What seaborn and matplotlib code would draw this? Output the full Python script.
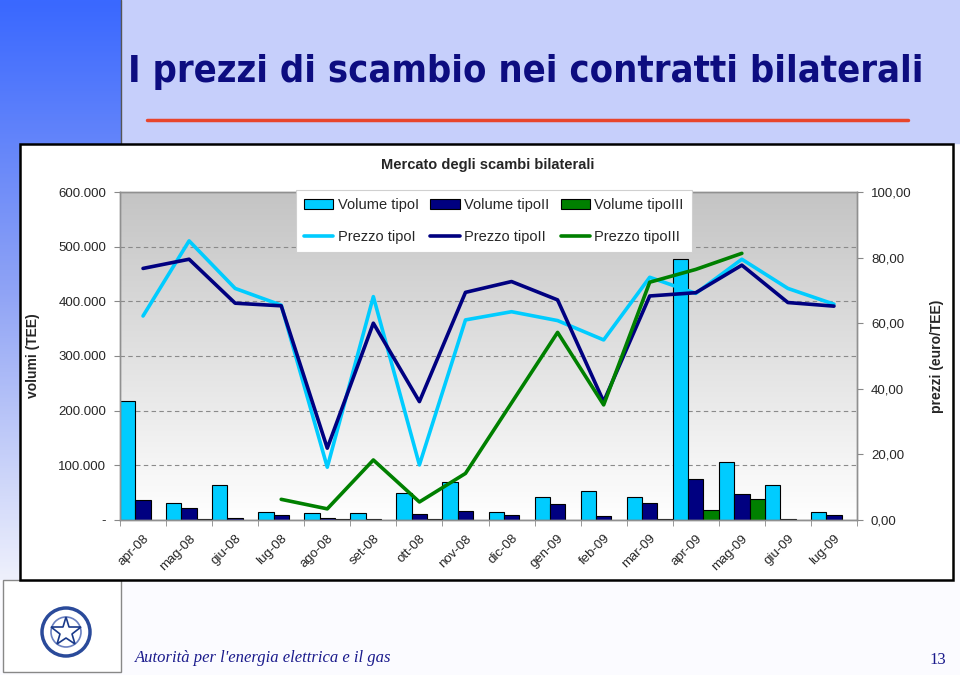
import matplotlib
matplotlib.use("Agg")
import matplotlib.pyplot as plt
import numpy as np
import pandas as pd
import seaborn as sns
from matplotlib.patches import Patch, Rectangle, Circle
from matplotlib.lines import Line2D
from matplotlib.colors import LinearSegmentedColormap
from matplotlib.ticker import FuncFormatter, FixedLocator

# mesi
mesi = ["apr-08", "mag-08", "giu-08", "lug-08", "ago-08", "set-08", "ott-08", "nov-08",
        "dic-08", "gen-09", "feb-09", "mar-09", "apr-09", "mag-09", "giu-09", "lug-09"]

# volumi (TEE)
vol_tipo1 = [218000, 32000, 64000, 14500, 13500, 13500, 49000, 70000,
             14500, 42000, 52500, 42000, 478000, 107000, 64000, 14500]
vol_tipo2 = [36500, 22500, 3000, 9000, 3000, 1500, 11000, 16000,
             8500, 28500, 8000, 30500, 75500, 47000, 2500, 9000]
vol_tipo3 = [0, 1000, 0, 0, 1500, 0, 1000, 0,
             0, 0, 0, 2500, 19000, 39000, 0, 0]

# prezzi (euro/TEE)
prezzo_tipo1 = [62.2, 85.1, 70.6, 65.5, 16.1, 68.1, 16.8, 61.0,
                63.5, 60.8, 54.9, 74.0, 69.1, 79.5, 70.6, 65.8]
prezzo_tipo2 = [76.7, 79.5, 66.1, 65.3, 21.9, 60.0, 36.1, 69.4,
                72.7, 67.1, 36.1, 68.3, 69.3, 77.7, 66.3, 65.2]
prezzo_tipo3 = [None, None, None, 6.3, 3.4, 18.3, 5.5, 14.2,
                35.7, 57.2, 35.1, 72.5, 76.4, 81.3, None, None]

tipi_vol = ["Volume tipoI", "Volume tipoII", "Volume tipoIII"]
tipi_prezzo = ["Prezzo tipoI", "Prezzo tipoII", "Prezzo tipoIII"]
colori = ["#00ccff", "#000080", "#008000"]

vol_df = pd.DataFrame({
    "mese": mesi * 3,
    "volume": vol_tipo1 + vol_tipo2 + vol_tipo3,
    "tipo": [t for t in tipi_vol for _ in mesi],
})
prezzi_df = pd.DataFrame({
    "pos": list(range(len(mesi))) * 3,
    "prezzo": prezzo_tipo1 + prezzo_tipo2 + prezzo_tipo3,
    "tipo": [t for t in tipi_prezzo for _ in mesi],
}).dropna()

sns.set_style("white")
plt.rcParams["font.family"] = ["Liberation Sans", "DejaVu Sans"]

W, H = 960, 675
fig = plt.figure(figsize=(9.6, 6.75), dpi=100)
fig.patch.set_facecolor("white")


def px(x0, y0, x1, y1):
    # rettangolo in pixel -> coordinate figura
    return [x0 / W, 1 - y1 / H, (x1 - x0) / W, (y1 - y0) / H]


# sfondo della slide
deco = fig.add_axes([0, 0, 1, 1], zorder=-10)
deco.set_xlim(0, W)
deco.set_ylim(H, 0)
deco.axis("off")
deco.add_patch(Rectangle((0, 0), W, H, color="#fbfbff"))
deco.add_patch(Rectangle((121, 0), W - 121, 143, color="#c6cffb"))
strip = np.linspace(0, 1, 200).reshape(-1, 1)
cmap_strip = LinearSegmentedColormap.from_list("s", ["#3a68ff", "#8fa3f5", "#eef0fc"])
deco.imshow(strip, cmap=cmap_strip, extent=[0, 121, 580, 0], aspect="auto", zorder=1)
deco.plot([121, 121], [0, 143], color="#555555", lw=1, zorder=2)
deco.add_patch(Rectangle((3, 580), 118, 92, facecolor="white", edgecolor="#888888", lw=1, zorder=2))
deco.plot([147, 908], [120, 120], color="#e8452c", lw=2.5, zorder=2)
deco.add_patch(Rectangle((20, 144), 933, 436, facecolor="white", edgecolor="black", lw=1.8, zorder=3))

# stemma semplificato
deco.add_patch(Circle((66, 632), 24, facecolor="none", edgecolor="#2a4a9a", lw=2.5, zorder=4))
deco.add_patch(Circle((66, 632), 15, facecolor="none", edgecolor="#6a80c0", lw=1.2, zorder=4))
deco.plot([66], [632], marker="*", ms=22, mfc="white", mec="#1a3a8a", mew=1.2, zorder=5)

fig.text(526 / W, 1 - 72 / H, "I prezzi di scambio nei contratti bilaterali",
         family=["DejaVu Sans"], fontstretch="condensed",
         fontsize=27.3, fontweight="bold", color="#0d0d80", ha="center", va="center")
fig.text(135 / W, 1 - 658 / H, "Autorità per l'energia elettrica e il gas",
         family=["Liberation Serif", "DejaVu Serif"], style="italic",
         fontsize=12, color="#1a1a8c", ha="left", va="center")
fig.text(938 / W, 1 - 660 / H, "13", family=["Liberation Serif", "DejaVu Serif"],
         fontsize=12, color="#1a1a8c", ha="center", va="center")
fig.text(488 / W, 1 - 165 / H, "Mercato degli scambi bilaterali",
         fontsize=10.5, fontweight="bold", ha="center", va="center")

# area del grafico
pos = px(120, 192, 857, 520)
bg = fig.add_axes(pos, zorder=0)
grad = np.linspace(0, 1, 256).reshape(-1, 1)
cmap_bg = LinearSegmentedColormap.from_list("g", ["#c4c4c4", "#ffffff"])
bg.imshow(grad, cmap=cmap_bg, extent=[0, 1, 0, 1], aspect="auto")
bg.axis("off")

ax = fig.add_axes(pos, zorder=1)
ax.patch.set_alpha(0)
sns.barplot(data=vol_df, x="mese", y="volume", hue="tipo", order=mesi,
            hue_order=tipi_vol, palette=colori, width=1.0, errorbar=None,
            edgecolor="black", linewidth=0.8, saturation=1, legend=False, ax=ax)
ax.set_xlim(-0.5, len(mesi) - 0.5)
ax.set_ylim(0, 600000)
ax.set_yticks(np.arange(0, 600001, 100000))
ax.yaxis.set_major_formatter(FuncFormatter(
    lambda v, p: "-" if v == 0 else f"{int(v):,}".replace(",", ".")))
for v in range(100000, 600000, 100000):
    ax.axhline(v, color="#8a8a8a", lw=0.8, ls=(0, (4, 3)), zorder=0.5)
ax.set_xlabel("")
ax.set_ylabel("volumi (TEE)", fontsize=10, fontweight="bold")
ax.yaxis.set_label_coords(-0.108, 0.5)
ax.set_xticks(range(len(mesi)))
ax.set_xticklabels(mesi, rotation=45, ha="right", va="top", rotation_mode="anchor", fontsize=9.5)
ax.xaxis.set_minor_locator(FixedLocator(np.arange(-0.5, len(mesi), 1)))
ax.tick_params(axis="x", which="major", length=0, pad=9)
ax.tick_params(axis="x", which="minor", length=4, color="#888888", direction="out")
ax.tick_params(axis="y", length=4, color="#888888", labelsize=9.5, pad=6, direction="out")
ax.tick_params(left=True, bottom=True, which="both")
for s in ax.spines.values():
    s.set_color("#909090")
    s.set_linewidth(1)

ax2 = ax.twinx()
sns.lineplot(data=prezzi_df, x="pos", y="prezzo", hue="tipo", hue_order=tipi_prezzo,
             palette=colori, linewidth=2.6, sort=False, legend=False, ax=ax2)
ax2.set_ylim(0, 100)
ax2.set_xlim(-0.5, len(mesi) - 0.5)
ax2.set_yticks(np.arange(0, 101, 20))
ax2.yaxis.set_major_formatter(FuncFormatter(lambda v, p: f"{v:.2f}".replace(".", ",")))
ax2.tick_params(axis="y", length=4, color="#888888", labelsize=9.5, pad=6, direction="out")
ax2.set_ylabel("prezzi (euro/TEE)", fontsize=10, fontweight="bold", rotation=90)
ax2.yaxis.set_label_coords(1.099, 0.5)
for s in ax2.spines.values():
    s.set_color("#909090")
    s.set_linewidth(1)

handles = []
for i in range(3):
    handles.append(Patch(facecolor=colori[i], edgecolor="black", lw=0.8, label=tipi_vol[i]))
    handles.append(Line2D([], [], color=colori[i], lw=2.6, label=tipi_prezzo[i]))
leg = ax2.legend(handles=handles, ncol=3, loc="upper left",
                 bbox_to_anchor=(296 / W, 1 - 190 / H), bbox_transform=fig.transFigure,
                 fontsize=10.5, frameon=True, fancybox=False, framealpha=1,
                 edgecolor="#d0d0d0", handlelength=2.0, handletextpad=0.3,
                 columnspacing=0.8, labelspacing=1.25, borderpad=0.55, borderaxespad=0)
leg.get_frame().set_linewidth(0.8)

fig.savefig("out.png", dpi=100)
